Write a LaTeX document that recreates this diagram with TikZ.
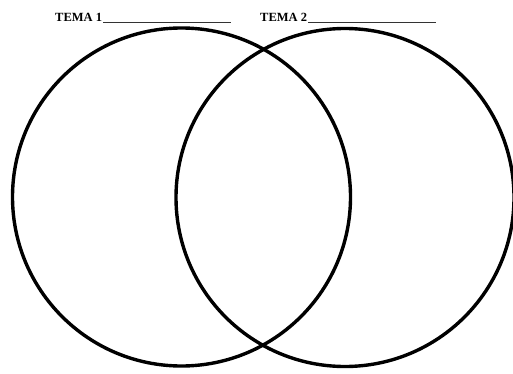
\documentclass[tikz,border=0pt]{standalone}
\usepackage{fontspec}
\setmainfont{Liberation Serif}
\begin{document}
\begin{tikzpicture}[x=1pt,y=-1pt,
  ring/.style={draw=black,line width=3.4pt,circle,inner sep=0pt,minimum size=338pt},
  title/.style={font=\fontsize{12.5}{14}\selectfont\bfseries,inner sep=0pt,anchor=base west},
  blank/.style={draw=black!80,line width=1.3pt}]
\useasboundingbox (0,0) rectangle (513,374);
\node[ring] (c1) at (181.5,197) {};
\node[ring] (c2) at (345,197.5) {};
\node[title] (t1) at (55,22) {TEMA 1};
\node[title] (t2) at (260,22) {TEMA 2};
\coordinate (e1) at (231,22.5);
\coordinate (e2) at (436,22.5);
\draw[blank] (t1.base east) ++(1,0.5) -- (e1);
\draw[blank] (t2.base east) ++(1,0.5) -- (e2);
\end{tikzpicture}
\end{document}
